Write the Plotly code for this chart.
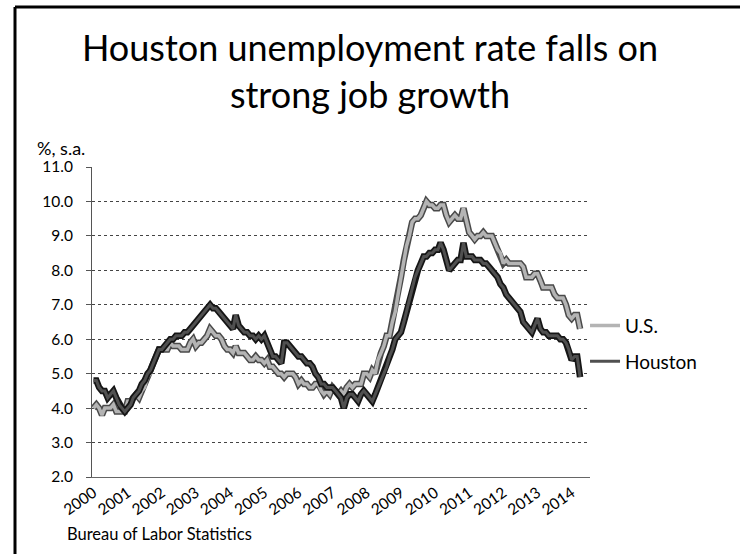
import pandas as pd
import plotly.graph_objects as go

# ---- data (monthly, Jan 2000 - Apr 2014, % seasonally adjusted) ----
us = [
    4.0, 4.1, 4.0, 3.8, 4.0, 4.0, 4.0, 4.1, 3.9, 3.9, 3.9, 3.9,
    4.2, 4.2, 4.3, 4.4, 4.3, 4.5, 4.6, 4.9, 5.0, 5.3, 5.5, 5.7,
    5.7, 5.7, 5.7, 5.9, 5.8, 5.8, 5.8, 5.7, 5.7, 5.7, 5.9, 6.0,
    5.8, 5.9, 5.9, 6.0, 6.1, 6.3, 6.2, 6.1, 6.1, 6.0, 5.8, 5.7,
    5.7, 5.6, 5.8, 5.6, 5.6, 5.6, 5.5, 5.4, 5.4, 5.5, 5.4, 5.4,
    5.3, 5.4, 5.2, 5.2, 5.1, 5.0, 5.0, 4.9, 5.0, 5.0, 5.0, 4.9,
    4.7, 4.8, 4.7, 4.7, 4.6, 4.6, 4.7, 4.7, 4.5, 4.4, 4.5, 4.4,
    4.6, 4.5, 4.4, 4.5, 4.4, 4.6, 4.7, 4.6, 4.7, 4.7, 4.7, 5.0,
    5.0, 4.9, 5.1, 5.0, 5.4, 5.6, 5.8, 6.1, 6.1, 6.5, 6.8, 7.3,
    7.8, 8.3, 8.7, 9.0, 9.4, 9.5, 9.5, 9.6, 9.8, 10.0, 9.9, 9.9,
    9.8, 9.8, 9.9, 9.9, 9.6, 9.4, 9.5, 9.6, 9.5, 9.5, 9.8, 9.4,
    9.1, 9.0, 8.9, 9.0, 9.0, 9.1, 9.0, 9.0, 9.0, 8.8, 8.6, 8.5,
    8.2, 8.3, 8.2, 8.2, 8.2, 8.2, 8.2, 8.1, 7.8, 7.8, 7.8, 7.9,
    7.9, 7.7, 7.5, 7.5, 7.5, 7.5, 7.3, 7.2, 7.2, 7.2, 7.0, 6.7,
    6.6, 6.7, 6.7, 6.3,
]

houston = [
    4.8, 4.8, 4.6, 4.5, 4.5, 4.3, 4.4, 4.5, 4.3, 4.1, 4.0, 3.9,
    4.0, 4.1, 4.3, 4.4, 4.5, 4.7, 4.8, 5.0, 5.1, 5.3, 5.5, 5.7,
    5.7, 5.8, 5.9, 6.0, 6.0, 6.1, 6.1, 6.1, 6.2, 6.2, 6.3, 6.4,
    6.5, 6.6, 6.7, 6.8, 6.9, 7.0, 6.9, 6.9, 6.8, 6.7, 6.6, 6.5,
    6.4, 6.3, 6.7, 6.4, 6.3, 6.2, 6.2, 6.1, 6.1, 6.0, 6.1, 6.0,
    6.1, 5.9, 5.7, 5.5, 5.5, 5.4, 5.3, 5.9, 5.9, 5.8, 5.7, 5.6,
    5.5, 5.5, 5.4, 5.3, 5.3, 5.2, 5.0, 4.9, 4.7, 4.7, 4.6, 4.6,
    4.6, 4.5, 4.4, 4.3, 4.0, 4.3, 4.4, 4.4, 4.3, 4.2, 4.4, 4.5,
    4.4, 4.3, 4.2, 4.4, 4.6, 4.8, 5.0, 5.2, 5.5, 5.7, 6.0, 6.1,
    6.2, 6.5, 6.8, 7.2, 7.5, 7.8, 8.0, 8.2, 8.4, 8.4, 8.5, 8.5,
    8.6, 8.6, 8.8, 8.6, 8.3, 8.0, 8.1, 8.2, 8.3, 8.3, 8.8, 8.4,
    8.4, 8.4, 8.3, 8.3, 8.3, 8.2, 8.2, 8.1, 8.0, 7.9, 7.8, 7.6,
    7.5, 7.3, 7.2, 7.1, 7.0, 6.9, 6.8, 6.5, 6.4, 6.3, 6.2, 6.4,
    6.6, 6.3, 6.2, 6.2, 6.1, 6.1, 6.1, 6.1, 6.0, 6.0, 5.9, 5.7,
    5.4, 5.5, 5.5, 4.9,
]

year_labels = [str(y) for y in range(2000, 2015)]
y_ticks = [2.0, 3.0, 4.0, 5.0, 6.0, 7.0, 8.0, 9.0, 10.0, 11.0]

months = pd.date_range("2000-01-01", periods=len(us), freq="MS")
year_ticks = [f"{y}-01-01" for y in year_labels]

FONT = "Lato"

fig = go.Figure()

# U.S. (gray line with dark edge)
fig.add_trace(go.Scatter(x=months, y=us, mode="lines", legendgroup="us",
                         showlegend=False, hoverinfo="skip",
                         line=dict(color="#4a4a4a", width=6.5)))
fig.add_trace(go.Scatter(x=months, y=us, mode="lines", name="U.S.",
                         legendgroup="us",
                         line=dict(color="#b4b4b4", width=3.5)))
# Houston (dark line)
fig.add_trace(go.Scatter(x=months, y=houston, mode="lines", legendgroup="hou",
                         showlegend=False, hoverinfo="skip",
                         line=dict(color="#151515", width=6.5)))
fig.add_trace(go.Scatter(x=months, y=houston, mode="lines", name="Houston",
                         legendgroup="hou",
                         line=dict(color="#505050", width=3)))

fig.update_layout(
    width=740, height=554,
    margin=dict(l=92, r=150, t=167, b=77),
    paper_bgcolor="white", plot_bgcolor="white",
    font=dict(family=FONT, color="black"),
    title=dict(text="Houston unemployment rate falls on<br>strong job growth",
               x=0.5, xanchor="center", xref="container",
               y=0.889, yanchor="top", yref="container",
               font=dict(family=FONT, size=36, color="black")),
    showlegend=True,
    legend=dict(x=0.99, xanchor="left", y=0.43, yanchor="middle",
                font=dict(family=FONT, size=19, color="black"),
                tracegroupgap=8, bgcolor="rgba(0,0,0,0)"),
    xaxis=dict(range=["1999-12-16", "2014-07-16"],
               tickmode="array", tickvals=year_ticks, ticktext=year_labels,
               tickangle=-35, showgrid=False, zeroline=False,
               showline=True, linecolor="#666", linewidth=1,
               ticks="", tickfont=dict(family=FONT, size=15.5, color="black")),
    yaxis=dict(range=[2, 11], tickmode="array", tickvals=y_ticks,
               tickformat=".1f", showgrid=True, gridcolor="#444",
               griddash="dot", gridwidth=1, zeroline=False,
               showline=True, linecolor="#555", linewidth=1,
               ticks="outside", ticklen=5, tickcolor="#555",
               ticklabelstandoff=10,
               tickfont=dict(family=FONT, size=15.5, color="black")),
    annotations=[
        dict(text="%, s.a.", xref="paper", yref="paper", x=0, y=1,
             xshift=-57, yshift=19, xanchor="left", yanchor="middle",
             showarrow=False, font=dict(family=FONT, size=18, color="black")),
        dict(text="Bureau of Labor Statistics", xref="paper", yref="paper",
             x=0, y=0, xshift=-27, yshift=-57, xanchor="left",
             yanchor="middle", showarrow=False,
             font=dict(family=FONT, size=16.5, color="black")),
    ],
    shapes=[
        # chart frame (left and top edges)
        dict(type="line", xref="paper", yref="paper",
             x0=(15 - 92) / 498, x1=(15 - 92) / 498,
             y0=(477 - 7) / 310, y1=(477 - 560) / 310,
             line=dict(color="black", width=3)),
        dict(type="line", xref="paper", yref="paper",
             x0=(15 - 92) / 498, x1=(745 - 92) / 498,
             y0=(477 - 7) / 310, y1=(477 - 7) / 310,
             line=dict(color="black", width=3)),
    ],
)

fig.write_html("out.html",
               config={"displayModeBar": False},
               post_script="document.body.style.margin='0px';"
                           "document.body.style.overflow='hidden';")
